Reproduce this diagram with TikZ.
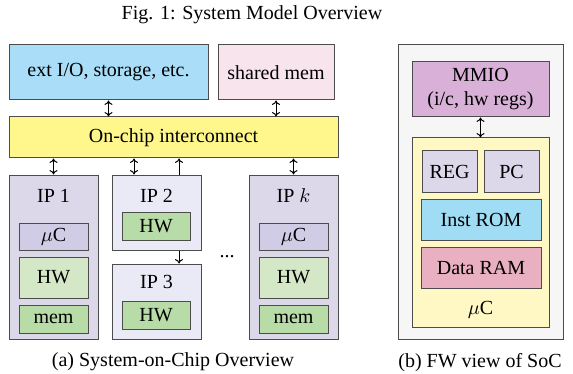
\documentclass[tikz,border=0pt]{standalone}
\usepackage{fontspec}
\setmainfont{Liberation Serif}
\usetikzlibrary{arrows.meta,positioning,calc}

\definecolor{extblue}{RGB}{170,222,248}
\definecolor{shmempink}{RGB}{248,228,236}
\definecolor{nocyellow}{RGB}{255,247,140}
\definecolor{iplav}{RGB}{220,216,234}
\definecolor{iplight}{RGB}{234,234,246}
\definecolor{ucpurple}{RGB}{208,204,230}
\definecolor{hwlight}{RGB}{212,232,200}
\definecolor{hwgreen}{RGB}{184,220,168}
\definecolor{socgray}{RGB}{246,246,246}
\definecolor{mmiopink}{RGB}{216,176,216}
\definecolor{ucyellow}{RGB}{255,248,196}
\definecolor{romblue}{RGB}{160,220,244}
\definecolor{rampink}{RGB}{232,176,192}

\tikzset{
	block/.style  = {draw=black!70, line width=0.5pt, rectangle, inner sep=0pt},
	dims/.style 2 args = {minimum width=#1*0.5pt, minimum height=#2*0.5pt},
	tag/.style    = {inner sep=0pt},
	link/.style   = {<->, line width=0.5pt},
	uplink/.style = {->, line width=0.5pt},
}

\begin{document}
\begin{tikzpicture}[x=0.5pt, y=-0.5pt, >={To[length=2.2pt,width=4pt]}]
	\useasboundingbox (0,0) rectangle (573,374);

	\node[tag] (title) at (252,15) {Fig. 1: System Model Overview};

	% Draw the top level blocks of the SoC
	\node[block, fill=extblue,   dims={199}{55}] (extio) at (108.5,72.5) {ext I/O, storage, etc.};
	\node[block, fill=shmempink, dims={116}{55}] (shmem) at (276,72.5) {shared mem};
	\node[block, fill=nocyellow, dims={329}{41}] (noc) at (173.5,137.5) {On-chip interconnect};

	% Draw the IP blocks
	\node[block, fill=iplav,   dims={89}{164}] (ip1) at (53.5,257) {};
	\node[block, fill=iplight, dims={89}{75}]  (ip2) at (156.5,212.5) {};
	\node[block, fill=iplight, dims={89}{75}]  (ip3) at (156.5,301.5) {};
	\node[block, fill=iplav,   dims={89}{164}] (ipk) at (293.5,257) {};

	\node[tag] (ip1lbl) at (53.5,196)  {IP 1};
	\node[tag] (ip2lbl) at (156.5,196) {IP 2};
	\node[tag] (ip3lbl) at (156.5,282) {IP 3};
	\node[tag] (ipklbl) at (293.5,196) {IP $k$};
	\node[tag] (dots)   at (227,257)   {...};

	\node[block, fill=ucpurple, dims={69}{27}] (ip1uc)  at (53.5,236.5) {$\mu$C};
	\node[block, fill=hwlight,  dims={69}{41}] (ip1hw)  at (53.5,277.5) {HW};
	\node[block, fill=hwgreen,  dims={69}{28}] (ip1mem) at (53.5,319)   {mem};

	\node[block, fill=hwgreen, dims={68}{28}] (ip2hw) at (156,226)   {HW};
	\node[block, fill=hwgreen, dims={68}{28}] (ip3hw) at (156,315.5) {HW};

	\node[block, fill=ucpurple, dims={69}{27}] (ipkuc)  at (293.5,236.5) {$\mu$C};
	\node[block, fill=hwlight,  dims={69}{41}] (ipkhw)  at (293.5,277.5) {HW};
	\node[block, fill=hwgreen,  dims={69}{28}] (ipkmem) at (293.5,319)   {mem};

	% Connect everything to the interconnect
	\draw[link] (extio.south) -- (extio.south |- noc.north);
	\draw[link] (shmem.south) -- (shmem.south |- noc.north);
	\draw[link] (ip1.north) -- (ip1.north |- noc.south);
	\coordinate (ip2in)  at ($(ip2.north west)!0.25!(ip2.north east)$);
	\coordinate (ip2out) at ($(ip2.north west)!0.75!(ip2.north east)$);
	\coordinate (ip2dn)  at ($(ip2.south west)!0.75!(ip2.south east)$);
	\draw[link]   (ip2in) -- (ip2in |- noc.south);
	\draw[uplink] (ip2out) -- (ip2out |- noc.south);
	\draw[uplink] (ip2dn) -- (ip2dn |- ip3.north);
	\draw[link] (ipk.north) -- (ipk.north |- noc.south);

	% Draw the firmware view
	\node[block, fill=socgray,  dims={165}{294}] (soc) at (480.5,192) {};
	\node[block, fill=mmiopink, dims={137}{55}, align=center] (mmio) at (480.5,89.5) {MMIO\\(i/c, hw regs)};
	\node[block, fill=ucyellow, dims={137}{189}] (uc) at (480.5,232.5) {};
	\node[block, fill=iplav,    dims={55}{41}]  (reg) at (449.5,171.5) {REG};
	\node[block, fill=iplav,    dims={55}{41}]  (pc)  at (511.5,171.5) {PC};
	\node[block, fill=romblue,  dims={120}{41}] (rom) at (481,219.5) {Inst ROM};
	\node[block, fill=rampink,  dims={120}{41}] (ram) at (481,267.5) {Data RAM};
	\node[tag] (uclbl) at (480.5,310) {$\mu$C};
	\draw[link] (mmio.south) -- (uc.north);

	% Captions
	\node[tag] (capa) at (173,362) {(a) System-on-Chip Overview};
	\node[tag] (capb) at (480,363) {(b) FW view of SoC};
\end{tikzpicture}
\end{document}
